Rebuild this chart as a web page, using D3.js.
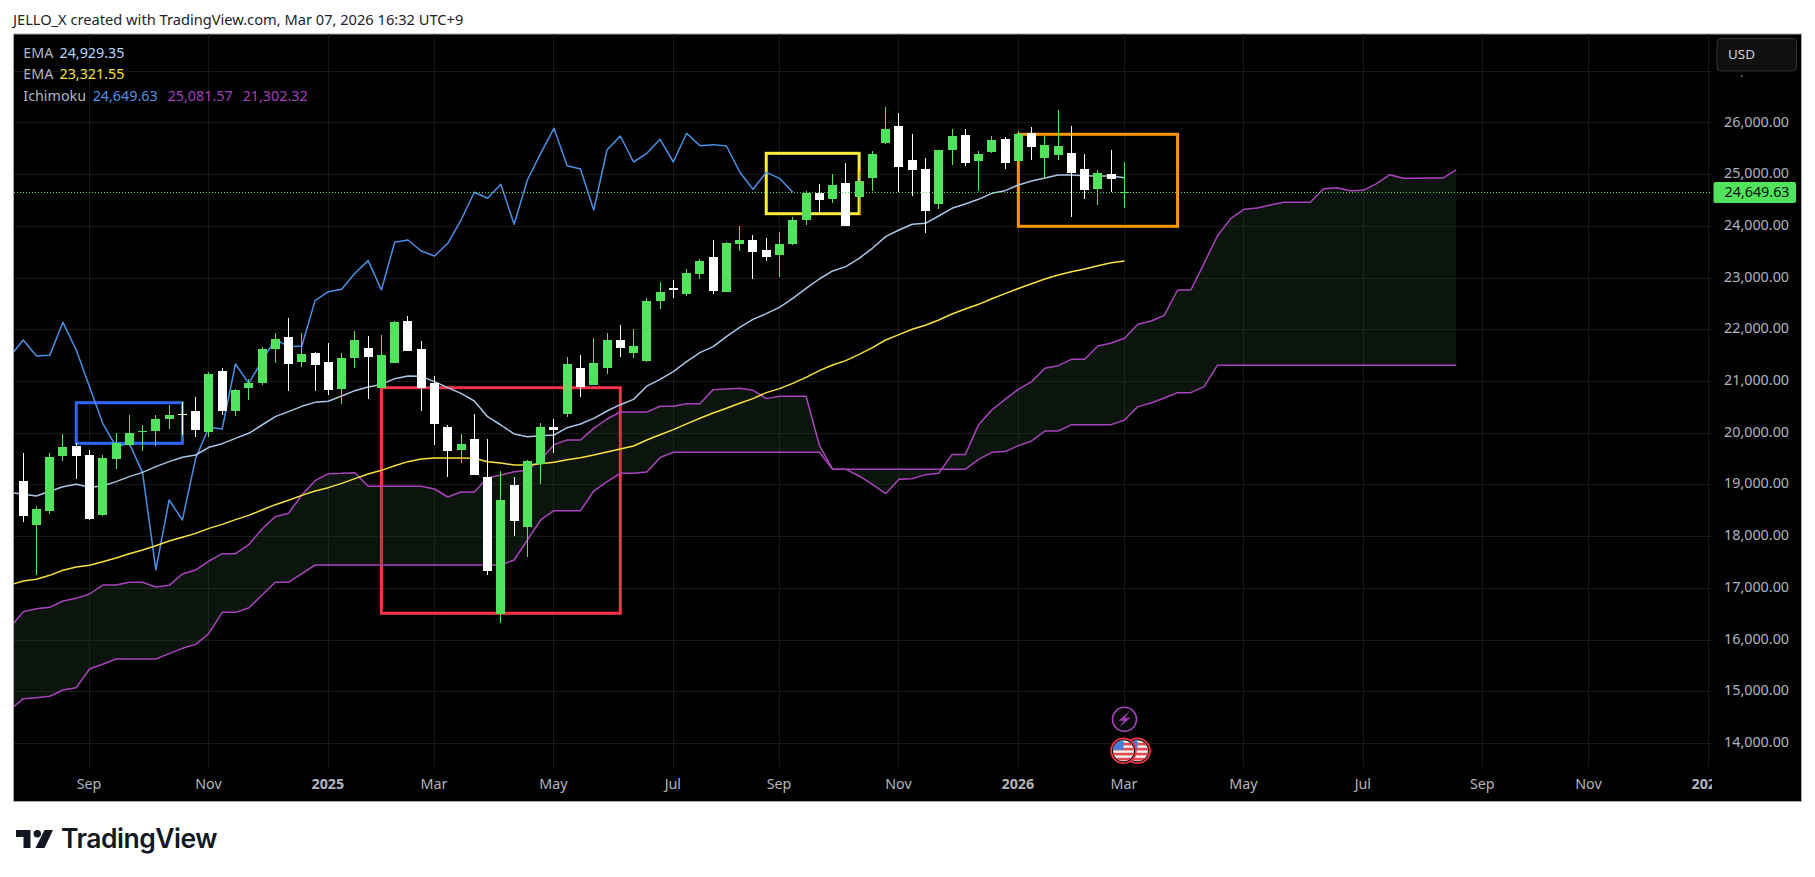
<!DOCTYPE html>
<html><head><meta charset="utf-8">
<script src="https://cdn.jsdelivr.net/npm/d3@7"></script>
<style>
html,body{margin:0;padding:0;background:#fff;overflow:hidden}
svg{display:block}
text{font-family:"Noto Sans",sans-serif}
</style></head><body><svg id="c" width="1815" height="877"></svg>
<script>
// Weekly candles. Week index 0 is the week of 2 Sep 2024; the first entry is week -6.
const firstWeek = -6;
const opens = [19601,19066,18215,18486,19549,19743,19569,18408,19491,19762,20014,20033,20265,20362,20420,20014,21193,20420,20865,20961,21619,21851,21367,21542,21367,20845,21445,21638,20865,21348,22160,21619,20961,20110,19665,19878,19143,16493,18989,18176,19395,20110,20362,21251,20923,21251,21793,21542,21387,22548,22799,22683,23070,23399,22722,23650,23728,23534,23438,23650,24114,24637,24521,24830,24559,24927,25604,25933,25275,25101,24424,25468,25759,25256,25430,25681,25256,25797,25314,25372,25411,25101,24714,25004,24640];
const highs = [19660,19601,18582,19601,19975,19794,19665,19569,19988,20342,20149,20342,20536,20594,20691,21174,21251,20845,21039,21658,21928,22218,21928,21561,21735,21542,21967,21870,21890,22160,22257,21774,21097,20149,19975,20362,19878,19259,19143,19472,20188,20265,21464,21503,21832,21928,22083,22006,22600,22915,22954,23167,23360,23728,23689,23998,23824,23766,23882,24172,24675,24811,25004,25217,25043,25449,26300,26184,25778,25314,25468,25875,25875,25449,25739,25720,25836,25913,25739,26242,25933,25391,25082,25468,25236];
const lows = [19000,18279,17248,18434,19453,19105,18312,18389,19298,19743,19646,19743,20072,19956,19917,19917,20342,20323,20632,20923,21348,20807,21271,20807,20729,20555,21251,20652,20865,21348,21580,20420,19762,19143,19414,19182,17248,16319,18002,17596,19008,19607,20304,20691,20923,21135,21464,21445,21367,22393,22606,22645,22973,22683,22722,23515,22973,23321,23012,23631,24018,24231,24443,23998,24231,24675,25585,24656,24579,23863,24327,25178,25159,24676,25411,25101,25256,25275,24908,25275,24173,24521,24405,24656,24347];
const closes = [19040,18389,18524,19530,19724,19549,18331,19511,19801,19994,20026,20265,20342,20349,20052,21135,20420,20826,20961,21619,21812,21329,21522,21309,20826,21445,21793,21464,21503,22141,21580,20865,20168,19646,19781,19182,17325,18698,18292,19453,20110,20052,21329,20884,21348,21793,21638,21677,22547,22722,22761,23089,23322,22741,23670,23728,23496,23399,23650,24114,24637,24501,24791,23998,24869,25391,25875,25140,25082,24289,25468,25739,25217,25391,25662,25217,25778,25527,25565,25546,25024,24695,25024,24908,24649.63];
// EMA lines, same weeks as the candles.
const emaFast = [18847,18808,18776,18866,18956,19001,18943,18969,19053,19150,19233,19343,19440,19524,19569,19717,19788,19891,19988,20149,20310,20407,20510,20587,20607,20710,20813,20884,20935,21045,21097,21090,20987,20871,20761,20613,20310,20149,19975,19923,19943,19956,20097,20168,20278,20420,20542,20645,20900,21033,21181,21375,21549,21665,21858,22039,22193,22303,22425,22599,22793,22973,23128,23212,23373,23567,23792,23921,24031,24050,24192,24340,24424,24514,24630,24682,24792,24869,24927,24985,24985,24972,24966,24966,24929.35];
const emaSlow = [17054,17131,17164,17241,17338,17402,17435,17505,17576,17660,17731,17815,17905,17976,18053,18150,18227,18318,18401,18505,18608,18692,18788,18872,18937,19020,19111,19201,19272,19362,19440,19491,19511,19511,19511,19504,19440,19414,19375,19375,19401,19427,19478,19517,19569,19627,19685,19743,19859,19960,20060,20170,20280,20380,20472,20569,20659,20775,20852,20955,21071,21200,21310,21394,21516,21645,21793,21897,22000,22077,22180,22296,22393,22483,22590,22690,22790,22880,22974,23051,23115,23167,23231,23289,23321.55];
// Ichimoku lagging span, first entry is week -6, last is week 53.
const lagging = [21471,21793,21483,21496,22135,21600,20890,20181,19730,19794,19227,17345,18698,18312,19504,20104,20072,21329,20955,21387,21806,21664,21677,22554,22728,22774,23083,23328,22761,23683,23728,23515,23418,23663,24114,24650,24534,24804,24031,24888,25404,25887,25165,25101,24308,25468,25739,25236,25404,25675,25236,25791,25552,25572,25546,25043,24708,25036,24920,24649.63];
// Ichimoku leading spans, first entry is week -6, last is week 103.
const spanA = [16229,16538,16596,16622,16745,16796,16880,17054,17054,17106,17106,17015,17048,17267,17344,17518,17660,17660,17834,18137,18376,18440,18795,19072,19208,19214,19227,18963,18963,18963,18963,18963,18911,18756,18853,18853,19130,19182,19246,19272,19472,19769,19859,19859,20084,20265,20400,20400,20400,20511,20511,20562,20562,20833,20846,20859,20820,20659,20704,20704,20704,19763,19292,19292,19163,19002,18821,19099,19111,19189,19215,19576,19576,20156,20439,20646,20839,20987,21245,21297,21419,21419,21677,21735,21826,22096,22161,22270,22760,22760,23276,23805,24140,24320,24346,24404,24456,24456,24456,24720,24739,24681,24688,24817,24991,24920,24920,24926,24926,25081.57];
const spanB = [14636,14856,14875,14901,15023,15068,15429,15520,15623,15623,15623,15623,15726,15829,15906,16119,16525,16525,16609,16861,17106,17106,17273,17441,17441,17441,17441,17441,17441,17441,17441,17441,17441,17441,17441,17441,17441,17441,17538,17925,18312,18492,18492,18492,18872,19053,19214,19214,19240,19520,19621,19621,19621,19621,19621,19621,19621,19621,19621,19621,19621,19621,19292,19292,19292,19292,19292,19292,19292,19292,19292,19292,19292,19485,19621,19634,19750,19840,20033,20033,20156,20156,20156,20156,20246,20504,20575,20672,20775,20775,20890,21302.32,21302.32,21302.32,21302.32,21302.32,21302.32,21302.32,21302.32,21302.32,21302.32,21302.32,21302.32,21302.32,21302.32,21302.32,21302.32,21302.32,21302.32,21302.32];
// Axis ticks.
const timeTickWeeks = [0,9,18,26,35,44,52,61,70,78,87,96,105,113,122];
const timeTickLabels = ["Sep","Nov","2025","Mar","May","Jul","Sep","Nov","2026","Mar","May","Jul","Sep","Nov","2027"];
const boldTimeLabels = ["2025","2026","2027"];
const priceTicks = [27000,26000,25000,24000,23000,22000,21000,20000,19000,18000,17000,16000,15000,14000];
const lastPrice = 24649.63;
// Drawn boxes: first week, last week, top price, bottom price.
const boxNames = ["blue","red","yellow","orange"];
const boxColors = ["#2f66ff","#fb3348","#ffeb3b","#ff9800"];
const boxWeekStart = [-1,22,51,70];
const boxWeekEnd = [7,40,58,82];
const boxPriceTop = [20580,20870,25404,25772];
const boxPriceBottom = [19795,16507,24236,23992];
// Legend.
const legendRows = [["EMA",["24,929.35"],["#b7d5f5"]],["EMA",["23,321.55"],["#f7e23c"]],["Ichimoku",["24,649.63","25,081.57","21,302.32"],["#4e92e8","#a63fb9","#a63fb9"]]];

const GREEN="#52e35c", WHITE="#ffffff", PURPLE="#a844bb", TXT="#b2b5be";
const AXF="14.3px";
const svg=d3.select("#c");
const x=d3.scaleLinear().domain([0,78]).range([89.5,1124.5]);
const y=d3.scaleLinear().domain([14000,27000]).range([742.9,70.8]);
const L=13.5,R=1801.5,T=34,B=801.5,PR=1712,PB=767;

const defs=svg.append("defs");
defs.append("clipPath").attr("id","pane").append("rect").attr("x",14).attr("y",T).attr("width",PR-14).attr("height",PB-T);
defs.append("clipPath").attr("id","tAxis").append("rect").attr("x",14).attr("y",PB).attr("width",PR-14).attr("height",B-PB);
defs.append("clipPath").attr("id","pAxis").append("rect").attr("x",1713).attr("y",75.6).attr("width",88).attr("height",B-76);

// header
svg.append("text").attr("x",13).attr("y",24.5).attr("fill","#1e222d").style("font-size","14.65px")
  .text("JELLO_X created with TradingView.com, Mar 07, 2026 16:32 UTC+9");

// frame
svg.append("rect").attr("x",L).attr("y",T).attr("width",R-L).attr("height",B-T).attr("fill","#000").attr("stroke","#a9a9a9");

// grid
const grid=svg.append("g").attr("stroke","#171717").attr("stroke-width",1).attr("shape-rendering","crispEdges");
grid.selectAll(".h").data(priceTicks).join("line").attr("x1",14).attr("x2",PR)
  .attr("y1",d=>Math.round(y(d))+.5).attr("y2",d=>Math.round(y(d))+.5);
grid.selectAll(".v").data(timeTickWeeks).join("line").attr("y1",T).attr("y2",PB)
  .attr("x1",d=>Math.floor(x(d))+.5).attr("x2",d=>Math.floor(x(d))+.5).attr("clip-path","url(#pane)");

const pane=svg.append("g").attr("clip-path","url(#pane)");

// boxes
pane.append("g").selectAll("rect").data(boxNames).join("rect")
  .attr("x",(d,i)=>x(boxWeekStart[i])).attr("y",(d,i)=>y(boxPriceTop[i]))
  .attr("width",(d,i)=>x(boxWeekEnd[i])-x(boxWeekStart[i])).attr("height",(d,i)=>y(boxPriceBottom[i])-y(boxPriceTop[i]))
  .attr("fill","none").attr("stroke-width",3).attr("stroke",(d,i)=>boxColors[i]);

// cloud
const spanX=(d,i)=>x(firstWeek+i);
pane.append("path").datum(spanA.map((a,i)=>[a,spanB[i]]))
  .attr("d",d3.area().x(spanX).y0(d=>y(d[1])).y1(d=>y(d[0])))
  .attr("fill","rgba(48,80,56,0.25)");

// dotted last price line
svg.append("line").attr("x1",14).attr("x2",PR).attr("y1",Math.round(y(lastPrice))+.5).attr("y2",Math.round(y(lastPrice))+.5)
  .attr("stroke",GREEN).attr("stroke-dasharray","1 2").attr("stroke-width",1);

// lines
const line=d3.line().x(spanX).y(d=>y(d));
const addLine=(arr,color,w)=>pane.append("path").datum(arr).attr("d",line).attr("fill","none")
  .attr("stroke",color).attr("stroke-width",w).attr("stroke-linejoin","round");
addLine(spanA,PURPLE,1.5);
addLine(spanB,PURPLE,1.5);
addLine(lagging,"#4a8fe6",1.5);
addLine(emaFast,"#a9c6e6",1.5);
addLine(emaSlow,"#f7e23c",1.5);

// candles
const idx=d3.range(opens.length);
const cx=i=>Math.floor(x(firstWeek+i));
const col=i=>closes[i]>=opens[i]?GREEN:WHITE;
const cg=pane.append("g").attr("shape-rendering","crispEdges");
cg.selectAll(".w").data(idx).join("rect").attr("x",cx).attr("width",1)
  .attr("y",i=>y(highs[i])).attr("height",i=>y(lows[i])-y(highs[i])).attr("fill",col);
cg.selectAll(".b").data(idx).join("rect").attr("x",i=>cx(i)-4).attr("width",9)
  .attr("y",i=>y(Math.max(opens[i],closes[i])))
  .attr("height",i=>Math.max(1,Math.abs(y(opens[i])-y(closes[i])))).attr("fill",col);

// axes
const yAxis=d3.axisRight(y).tickValues(priceTicks).tickSize(0).tickPadding(0).tickFormat(d3.format(",.2f"));
const yg=svg.append("g").attr("clip-path","url(#pAxis)").append("g").attr("transform","translate(1789,-1)").call(yAxis);
yg.select(".domain").remove();
yg.selectAll("text").attr("text-anchor","end").attr("x",0).attr("dy",".32em").attr("fill",TXT).style("font-size",AXF).style("font-family",'"Noto Sans",sans-serif');

const xAxis=d3.axisBottom(x).tickValues(timeTickWeeks).tickSize(0).tickPadding(0).tickFormat((d,i)=>timeTickLabels[i]);
const xg=svg.append("g").attr("clip-path","url(#tAxis)").append("g").attr("transform","translate(-1,0)").call(xAxis);
xg.select(".domain").remove();
xg.selectAll("text").attr("y",784).attr("dy",".32em").attr("fill",TXT).style("font-size",AXF).style("font-family",'"Noto Sans",sans-serif')
  .style("font-weight",(d,i)=>boldTimeLabels.includes(timeTickLabels[i])?700:400);

// USD button
svg.append("rect").attr("x",1717).attr("y",38.5).attr("width",79.5).attr("height",32.5).attr("rx",4).attr("fill","#101010").attr("stroke","#333");
svg.append("text").attr("x",1728).attr("y",54.7).attr("dy",".35em").attr("fill","#d1d4dc").style("font-size","13.4px").text("USD");

// last price tag
svg.append("rect").attr("x",1713.5).attr("y",182).attr("width",82.5).attr("height",21).attr("rx",2).attr("fill",GREEN);
svg.append("text").attr("x",1789.5).attr("y",y(lastPrice)).attr("dy",".32em").attr("text-anchor","end").attr("fill","#0b0b0b").style("font-size",AXF).text(d3.format(",.2f")(lastPrice));

// legend
const lg=svg.append("g");
legendRows.forEach((r,ri)=>{
  const yy=53.3+ri*21.4;
  lg.append("text").attr("x",23.3).attr("y",yy).attr("dy",".32em").attr("fill",TXT).style("font-size",AXF).text(r[0]);
  const x0=ri==2?92.7:59.5;
  r[1].forEach((v,k)=>lg.append("text").attr("x",x0+k*75).attr("y",yy).attr("dy",".32em").attr("fill",r[2][k]).style("font-size",AXF).text(v));
});

// event icons
const ix=x(78), ev=svg.append("g");
ev.append("circle").attr("cx",ix).attr("cy",719.3).attr("r",12).attr("fill","#0a0a0a").attr("stroke","#a844bb").attr("stroke-width",1.6);
ev.append("path").attr("d",`M${ix+5},${719.3-8} L${ix-6},${719.3+1.5} H${ix-.5} L${ix-5},${719.3+8} L${ix+6},${719.3-1.5} H${ix+.5} Z`).attr("fill","#9a3fae");
[[13,"f2"],[-1,"f1"]].forEach(([dx,id])=>{
  const cxx=ix+dx, cy=750.8;
  defs.append("clipPath").attr("id",id).append("circle").attr("cx",cxx).attr("cy",cy).attr("r",10.5);
  ev.append("circle").attr("cx",cxx).attr("cy",cy).attr("r",12.4).attr("fill","#111").attr("stroke","#f23645").attr("stroke-width",1.8);
  const f=ev.append("g").attr("clip-path",`url(#${id})`);
  f.append("rect").attr("x",cxx-11).attr("y",cy-11).attr("width",22).attr("height",22).attr("fill","#f2f2f2");
  [-8,-3,2,7].forEach(o=>f.append("rect").attr("x",cxx-11).attr("y",cy+o).attr("width",22).attr("height",2.6).attr("fill","#e5484d"));
  f.append("rect").attr("x",cxx-11).attr("y",cy-11).attr("width",11).attr("height",10).attr("fill","#3f7fe0");
});

// logo
const logo=svg.append("g").attr("fill","#131722");
logo.append("path").attr("d","M16,830 H30.5 V848 H23.5 V837 H16 Z");
logo.append("circle").attr("cx",37.3).attr("cy",833.7).attr("r",3.7);
logo.append("path").attr("d","M44.5,830 H53 L44.5,848 H35.5 Z");
logo.append("text").attr("x",61).attr("y",848).attr("fill","#131722").style("font-family","Inter,sans-serif").style("font-weight",600).style("font-size","26.5px").style("letter-spacing","-0.5px").text("TradingView");
</script></body></html>
